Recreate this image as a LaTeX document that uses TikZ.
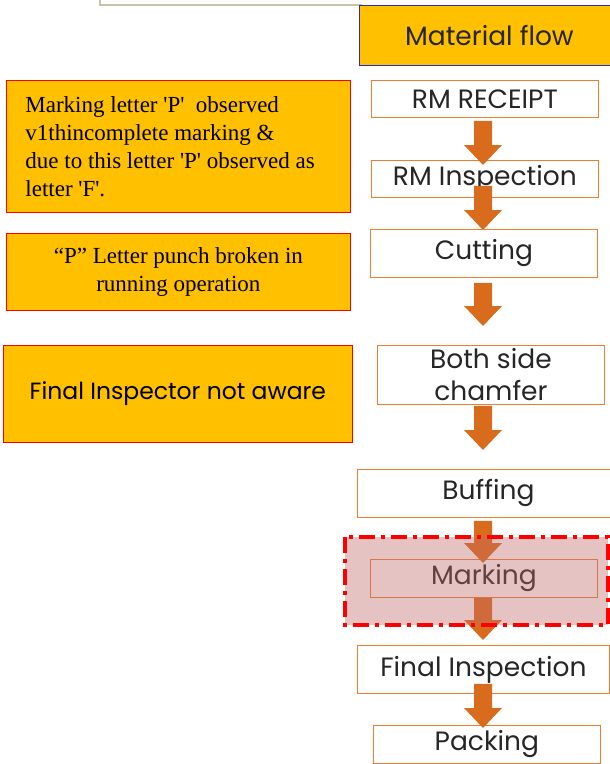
\documentclass[tikz,border=0pt]{standalone}
\usepackage{fontspec}
\setmainfont{Liberation Serif}
\newfontfamily\flowfont{Poppins}
\usetikzlibrary{calc}

\definecolor{gold}{HTML}{FFC000}
\definecolor{flowline}{HTML}{ED7D31}
\definecolor{titleline}{HTML}{2A2AC8}
\definecolor{arrowdark}{HTML}{D96C1C}
\definecolor{arrowlight}{HTML}{F9B05A}
\definecolor{framegray}{HTML}{CBC3AA}
\definecolor{marked}{HTML}{C06969}

% block arrow from #1 down to #2
\newcommand{\flowarrow}[2]{%
    \path[arrowbody] let \p1=(#1), \p2=(#2) in
        (\x1-9pt,\y1) -- (\x1+9pt,\y1) -- (\x1+9pt,\y2+20pt) -- (\x1+19pt,\y2+20pt)
        -- (\x1,\y2) -- (\x1-19pt,\y2+20pt) -- (\x1-9pt,\y2+20pt) -- cycle;}

\begin{document}
\begin{tikzpicture}
    [
        x=1pt, y=-1pt,
        stepbox/.style = {
                draw=flowline,
                fill=white,
                line width=0.8pt,
                anchor=north west,
                inner sep=0pt,
                align=center,
                text=black!85,
                font=\flowfont\fontsize{26.5}{32}\selectfont
            },
        causebox/.style = {
                draw=red,
                fill=gold,
                line width=0.8pt,
                anchor=north west,
                inner sep=0pt,
                font=\fontsize{23}{28}\selectfont
            },
        arrowbody/.style = {
                left color=arrowdark,
                middle color=arrowlight,
                right color=arrowdark
            },
        highlight/.style = {
                draw=red,
                fill=marked,
                fill opacity=0.4,
                line width=3.5pt,
                dash pattern=on 16pt off 6pt on 4pt off 6pt
            },
    ]
    \useasboundingbox (0,0) rectangle (610,764);

    % piece of the frame above
    \draw[framegray, line width=1.5pt] (100,0) -- (100,5) -- (362,5);

    % flow column
    \node [stepbox, draw=titleline, fill=gold, minimum width=260pt, minimum height=60pt] (title) at (359,5) {Material flow};
    \node [stepbox, minimum width=227pt, minimum height=37pt] (receipt) at (371,80) {RM RECEIPT};
    \node [stepbox, minimum width=227pt, minimum height=37pt] (rminsp) at (371,160) {RM Inspection};
    \node [stepbox, minimum width=227pt, minimum height=48pt] (cutting) at (370,229) {Cutting};
    \node [stepbox, minimum width=227pt, minimum height=59pt] (chamfer) at (377,345) {Both side\\chamfer};
    \node [stepbox, minimum width=262pt, minimum height=48pt] (buffing) at (357,469) {Buffing};
    \node [stepbox, minimum width=227pt, minimum height=38pt] (marking) at (370,559) {Marking};
    \node [stepbox, minimum width=252pt, minimum height=48pt] (finalinsp) at (357,645) {Final Inspection};
    \node [stepbox, minimum width=227pt, minimum height=38pt] (packing) at (373,725) {Packing};

    % causes
    \node [causebox, minimum width=344pt, minimum height=132pt, text width=306pt, align=flush left] (cause1) at (6,80)
        {Marking letter \textquotesingle P\textquotesingle\ \ observed\\
         v1thincomplete marking \&\\
         due to this letter \textquotesingle P\textquotesingle\ observed as\\
         letter \textquotesingle F\textquotesingle.};
    \node [causebox, minimum width=344pt, minimum height=77pt, align=center] (cause2) at (6,233)
        {“P” Letter punch broken in\\running operation};
    \node [causebox, minimum width=349pt, minimum height=97pt, font=\flowfont\fontsize{23.5}{28}\selectfont] (cause3) at (3,345)
        {Final Inspector not aware};

    % arrows
    \coordinate (axis) at (483,0);
    \flowarrow{$(axis |- receipt.south)+(0,3)$}{$(axis |- rminsp.north)+(0,5)$}
    \flowarrow{$(axis |- rminsp.south)+(0,-12)$}{$(axis |- cutting.north)+(0,1)$}
    \flowarrow{$(axis |- cutting.south)+(0,5)$}{$(axis |- chamfer.north)+(0,-19)$}
    \flowarrow{$(axis |- chamfer.south)+(0,1)$}{$(axis |- buffing.north)+(0,-19)$}
    \flowarrow{$(axis |- buffing.south)+(0,3)$}{$(axis |- marking.north)+(0,4)$}
    \flowarrow{$(axis |- marking.south)$}{$(axis |- finalinsp.north)+(0,-5)$}
    \flowarrow{$(axis |- finalinsp.south)+(0,-10)$}{$(axis |- packing.north)+(0,3)$}

    % marked step
    \draw[highlight] (345,537) rectangle (608,625);

\end{tikzpicture}
\end{document}
